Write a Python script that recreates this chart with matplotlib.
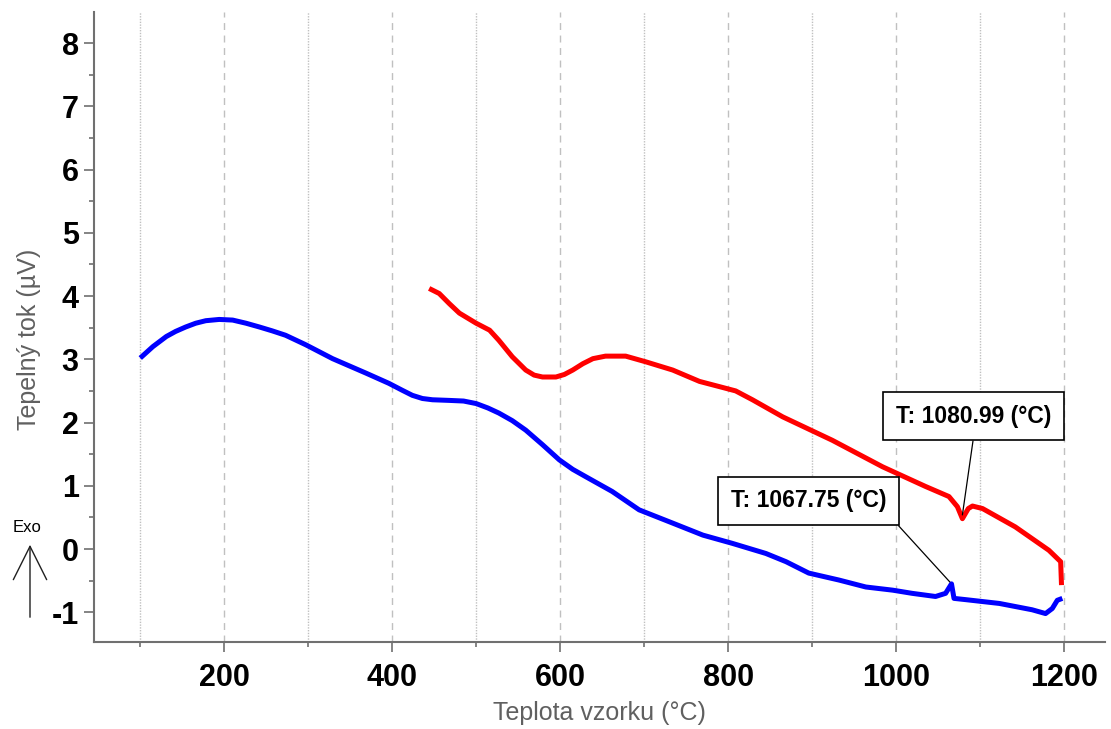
import numpy as np
import matplotlib
matplotlib.use("Agg")
import matplotlib.pyplot as plt
from matplotlib.ticker import MultipleLocator

plt.rcParams["axes.unicode_minus"] = False

# === Data ===
blue_t = [100, 115, 131, 142, 154, 166, 178, 194, 210, 226, 242, 257, 273, 297,
          329, 369, 396, 412, 424, 436, 448, 468, 485, 500, 514, 527, 543, 559,
          579, 599, 615, 631, 662, 694, 734, 770, 805, 845, 869, 896, 932,
          964, 996, 1019, 1047, 1059, 1066, 1069, 1083, 1123, 1162, 1178, 1186,
          1192, 1198]
blue_y = [3.02, 3.20, 3.36, 3.44, 3.51, 3.57, 3.61, 3.63, 3.62, 3.57, 3.51,
          3.45, 3.38, 3.23, 3.01, 2.78, 2.62, 2.51, 2.43, 2.38, 2.36, 2.35,
          2.34, 2.30, 2.23, 2.15, 2.03, 1.88, 1.65, 1.41, 1.26, 1.14, 0.91,
          0.62, 0.41, 0.22, 0.09, -0.07, -0.20, -0.38, -0.49, -0.60, -0.65,
          -0.70, -0.75, -0.70, -0.55, -0.78, -0.80, -0.86, -0.96, -1.02,
          -0.94, -0.81, -0.78]

red_t = [444, 456, 468, 480, 500, 516, 527, 543, 559, 569, 579, 595, 605, 615,
         627, 639, 654, 678, 702, 734, 766, 789, 809, 829, 865, 924, 984, 1035,
         1063, 1073, 1079, 1086, 1091, 1103, 1142, 1182, 1196, 1197]
red_y = [4.12, 4.04, 3.88, 3.73, 3.57, 3.46, 3.30, 3.04, 2.83, 2.75, 2.72,
         2.72, 2.76, 2.83, 2.93, 3.01, 3.05, 3.05, 2.96, 2.83, 2.65, 2.57,
         2.50, 2.36, 2.09, 1.72, 1.30, 0.99, 0.83, 0.67, 0.48, 0.64, 0.68,
         0.64, 0.35, -0.02, -0.20, -0.57]

peak_blue = (1064, -0.52)
peak_red = (1079, 0.54)
label_blue = "T: 1067.75 (°C)"
label_red = "T: 1080.99 (°C)"

fig = plt.figure(figsize=(11.11, 7.29), dpi=100)
ax = fig.add_axes([0.0846, 0.1193, 0.910, 0.8642])

ax.plot(blue_t, blue_y, color="#0000ff", lw=3.6, solid_capstyle="butt",
        solid_joinstyle="round")
ax.plot(red_t, red_y, color="#ff0000", lw=3.6, solid_capstyle="butt",
        solid_joinstyle="round")

ax.set_xlim(44.9, 1248.8)
ax.set_ylim(-1.47, 8.49)
ax.xaxis.set_major_locator(MultipleLocator(200))
ax.xaxis.set_minor_locator(MultipleLocator(100))
ax.yaxis.set_major_locator(MultipleLocator(1))
ax.yaxis.set_minor_locator(MultipleLocator(0.5))

ax.grid(True, which="major", axis="x", color="#c0c0c0", ls=(0, (5, 4)), lw=1.0)
ax.grid(True, which="minor", axis="x", color="#c0c0c0", ls=(0, (1, 1)), lw=1.0)

for s in ["top", "right"]:
    ax.spines[s].set_visible(False)
for s in ["left", "bottom"]:
    ax.spines[s].set_color("#707070")
    ax.spines[s].set_linewidth(1.5)

ax.tick_params(which="major", length=7, width=1.2, color="#707070")
ax.tick_params(which="minor", length=3.5, width=1.2, color="#707070")
ax.tick_params(axis="x", which="major", pad=8)
ax.tick_params(axis="y", which="major", pad=4)
for lab in ax.get_xticklabels() + ax.get_yticklabels():
    lab.set_fontfamily(["Liberation Sans", "DejaVu Sans"])
    lab.set_fontweight("bold")
    lab.set_fontsize(22)

ax.set_xlabel("Teplota vzorku (°C)", fontsize=18, color="#606060",
              family=["Liberation Sans", "DejaVu Sans"], labelpad=6)
ax.set_ylabel("Tepelný tok (µV)", fontsize=18, color="#606060",
              family=["Liberation Sans", "DejaVu Sans"])
ax.yaxis.set_label_coords(-0.052, 0.48)

box = dict(boxstyle="square,pad=0.55", fc="white", ec="black", lw=1.2)
ax.annotate(label_red, xy=peak_red, xytext=(1092, 2.10), ha="center", va="center",
            fontsize=16.5, fontweight="bold", family=["Liberation Sans", "DejaVu Sans"],
            bbox=box,
            arrowprops=dict(arrowstyle="-", color="black", lw=0.9,
                            relpos=(0.51, 0), shrinkA=0, shrinkB=0))
ax.annotate(label_blue, xy=peak_blue, xytext=(896, 0.76), ha="center", va="center",
            fontsize=16.5, fontweight="bold", family=["Liberation Sans", "DejaVu Sans"],
            bbox=box,
            arrowprops=dict(arrowstyle="-", color="black", lw=0.9,
                            relpos=(1, 0), shrinkA=0, shrinkB=0))

# Exo arrow
fig.text(27 / 1111, 1 - 527 / 729, "Exo", fontsize=12, ha="center", va="center",
         family=["Liberation Sans", "DejaVu Sans"])
fig.add_artist(matplotlib.patches.FancyArrowPatch(
    (30 / 1111, 1 - 620 / 729), (30 / 1111, 1 - 542 / 729),
    transform=fig.transFigure, arrowstyle="->,head_length=1.6,head_width=0.8",
    color="#202020", lw=1.0, mutation_scale=15))

fig.savefig("out.png", dpi=100)
